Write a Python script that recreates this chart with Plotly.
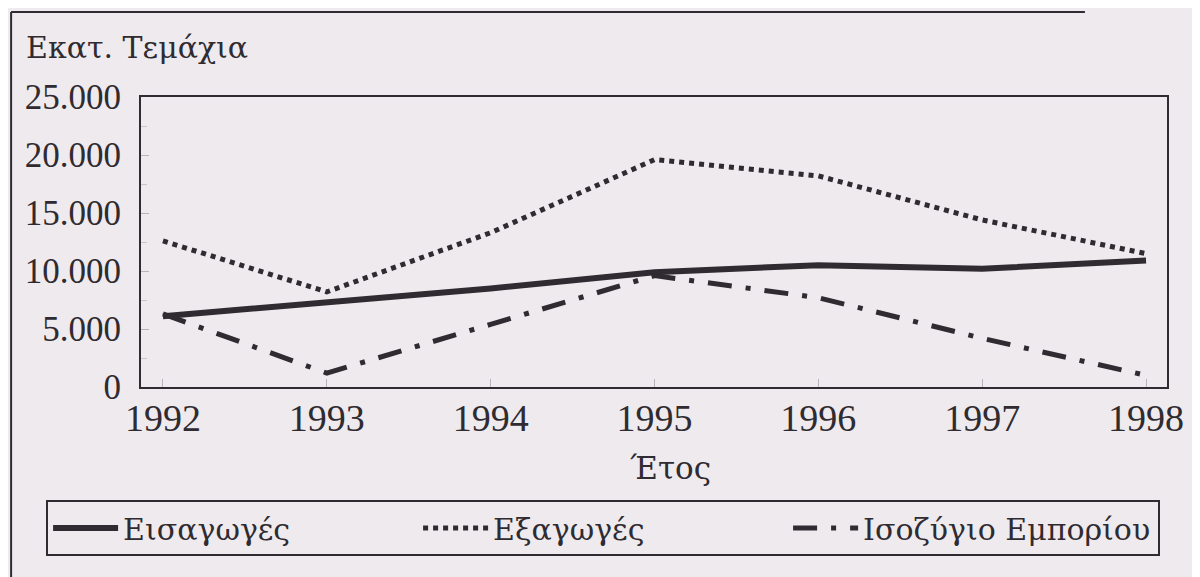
import plotly.graph_objs as go

# values (thousand pieces -> pieces)
years = [1992, 1993, 1994, 1995, 1996, 1997, 1998]
imports = [6100, 7300, 8500, 9900, 10500, 10200, 10900]
exports = [12600, 8200, 13300, 19600, 18200, 14400, 11500]
balance = [6300, 1200, 5400, 9600, 7700, 4200, 1000]

y_ticks = [0, 5000, 10000, 15000, 20000, 25000]

series_names = ["Εισαγωγές", "Εξαγωγές", "Ισοζύγιο Εμπορίου"]

INK = "#2f2b31"
PAPER = "#eeeaee"
DIGITS = "Liberation Serif, Times New Roman, serif"
GREEK = "DejaVu Serif, serif"

fig = go.Figure()

# imports: thick solid line
fig.add_trace(
    go.Scatter(
        x = years,
        y = imports,
        mode = "lines",
        name = series_names[0],
        line = {"color": INK, "width": 6}
    )
)

# exports: square dots
fig.add_trace(
    go.Scatter(
        x = years,
        y = exports,
        mode = "lines",
        name = series_names[1],
        line = {"color": INK, "width": 5, "dash": "5px,5px"}
    )
)

# trade balance: dash-dot
fig.add_trace(
    go.Scatter(
        x = years,
        y = balance,
        mode = "lines",
        name = series_names[2],
        line = {"color": INK, "width": 5, "dash": "24px,14px,5px,14px"}
    )
)

fig.update_xaxes(
    range = [1991.866, 1998.128],
    tickvals = years,
    ticktext = [str(y) for y in years],
    showgrid = False,
    zeroline = False,
    showline = True,
    mirror = True,
    linecolor = INK,
    linewidth = 2,
    ticks = "inside",
    ticklen = 8,
    tickcolor = "#b9b4bb",
    tickfont = {"family": DIGITS, "size": 38, "color": INK},
    ticklabelstandoff = -4,
    automargin = False
)

fig.update_yaxes(
    range = [0, 25000],
    tickvals = y_ticks,
    tickformat = ",d",
    showgrid = False,
    zeroline = False,
    showline = True,
    mirror = True,
    linecolor = INK,
    linewidth = 2,
    ticks = "inside",
    ticklen = 8,
    tickcolor = "#b9b4bb",
    minor = {"dtick": 2500, "ticks": "inside", "ticklen": 6, "tickcolor": "#c9c4cb"},
    tickfont = {"family": DIGITS, "size": 35, "color": INK},
    ticklabelstandoff = 11,
    automargin = False
)

# unit label (top left) and x axis title
fig.add_annotation(
    text = "Εκατ. Τεμάχια",
    xref = "paper", yref = "paper",
    x = -0.114, y = 1.17,
    xanchor = "left", yanchor = "middle",
    showarrow = False,
    font = {"family": GREEK, "size": 30, "color": INK}
)
fig.add_annotation(
    text = "Έτος",
    xref = "paper", yref = "paper",
    x = 0.516, y = -0.28,
    xanchor = "center", yanchor = "middle",
    showarrow = False,
    font = {"family": GREEK, "size": 31, "color": INK}
)

# outer frame of the printed figure (left and top edges)
fig.add_shape(
    type = "line", xref = "paper", yref = "paper",
    x0 = -0.1266, x1 = -0.1266, y0 = 1.293, y1 = -0.7,
    line = {"color": INK, "width": 2}
)
fig.add_shape(
    type = "line", xref = "paper", yref = "paper",
    x0 = -0.1266, x1 = 0.92, y0 = 1.293, y1 = 1.293,
    line = {"color": INK, "width": 2}
)

# the page adds an 8px body offset, so the margins are shifted by it
fig.update_layout(
    width = 1200,
    height = 577,
    margin = {"l": 133, "r": 41, "t": 89, "b": 198},
    paper_bgcolor = PAPER,
    plot_bgcolor = PAPER,
    separators = ",.",
    showlegend = True,
    legend = {
        "orientation": "h",
        "x": -0.0925,
        "xanchor": "left",
        "y": -0.39,
        "yanchor": "top",
        "bgcolor": "rgba(0,0,0,0)",
        "bordercolor": INK,
        "borderwidth": 2,
        "font": {"family": GREEK, "size": 30, "color": INK},
        "entrywidth": 290,
        "entrywidthmode": "pixels",
        "itemwidth": 65
    }
)

fig.write_html("out.html")
